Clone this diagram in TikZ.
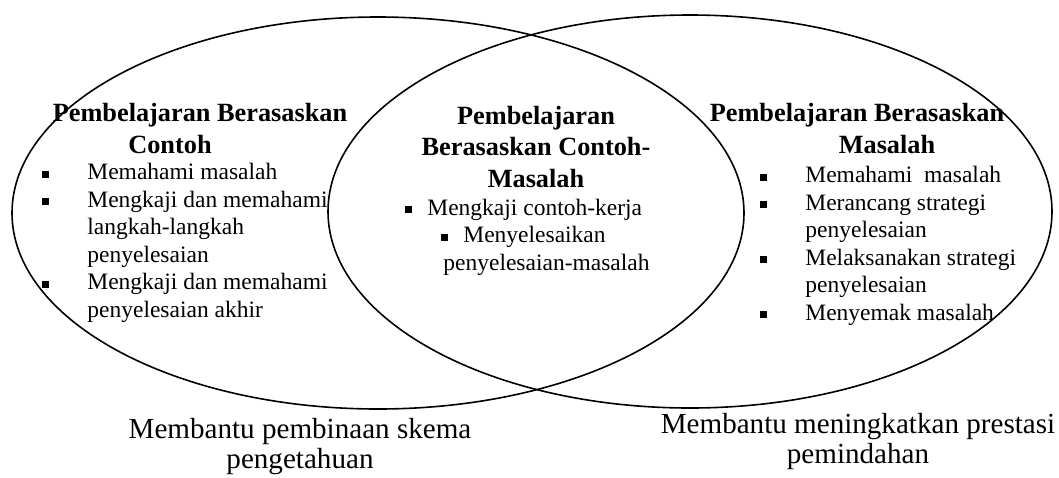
\documentclass[tikz,border=0pt]{standalone}
\usepackage{fontspec}
\setmainfont{Liberation Serif}
\usetikzlibrary{shapes.geometric}
\tikzset{
    set/.style={draw, ellipse, line width=0.8pt, inner sep=0pt}, % tiga kawasan
    head/.style={font=\fontsize{13.15}{15.75}\selectfont\bfseries, align=center, inner sep=0pt},
    list/.style={font=\fontsize{11.75}{13.75}\selectfont, align=left, inner sep=0pt},
    note/.style={font=\fontsize{14.55}{15}\selectfont, align=center, inner sep=0pt},
}
\newcommand{\sq}{\rule[1pt]{3.5pt}{3.5pt}}
\newcommand{\itm}{\makebox[22.5pt][l]{\sq}}

\begin{document}
\begin{tikzpicture}[x=0.5pt, y=-0.5pt]
    \useasboundingbox (0,0) rectangle (1059,477);

    % Elips
    \node[set, minimum width=366pt, minimum height=196pt] (pc) at (378,213) {};
    \node[set, minimum width=362pt, minimum height=196.5pt] (pm) at (690,211.5) {};

    % Contoh (base = baris terakhir)
    \node[head, anchor=base] (hc) at (200,153) {Pembelajaran Berasaskan\\Contoh\hspace*{30pt}};
    \node[list, anchor=base west] (lc) at (42,317) {\itm Memahami masalah\\
        \itm Mengkaji dan memahami\\
        \hspace*{22.5pt}langkah-langkah\\
        \hspace*{22.5pt}penyelesaian\\
        \itm Mengkaji dan memahami\\
        \hspace*{22.5pt}penyelesaian akhir};

    % Contoh-Masalah
    \node[head, anchor=base] (hcm) at (536,187) {Pembelajaran\\Berasaskan Contoh-\\Masalah};
    \node[list, anchor=base west] (lcm) at (405,270) {\makebox[11pt][l]{\sq}Mengkaji contoh-kerja\\
        \hspace*{18pt}\makebox[11pt][l]{\sq}Menyelesaikan\\
        \hspace*{19pt}penyelesaian-masalah};

    % Masalah
    \node[head, anchor=base] (hm) at (857,153) {Pembelajaran Berasaskan\\\hspace*{30pt}Masalah};
    \node[list, anchor=base west] (lm) at (760,320) {\itm Memahami~ masalah\\
        \itm Merancang strategi\\
        \hspace*{22.5pt}penyelesaian\\
        \itm Melaksanakan strategi\\
        \hspace*{22.5pt}penyelesaian\\
        \itm Menyemak masalah};

    % Kesan
    \node[note, anchor=base] (nc) at (300,468) {Membantu pembinaan skema\\pengetahuan};
    \node[note, anchor=base] (nm) at (858,463) {Membantu meningkatkan prestasi\\pemindahan};
\end{tikzpicture}
\end{document}
